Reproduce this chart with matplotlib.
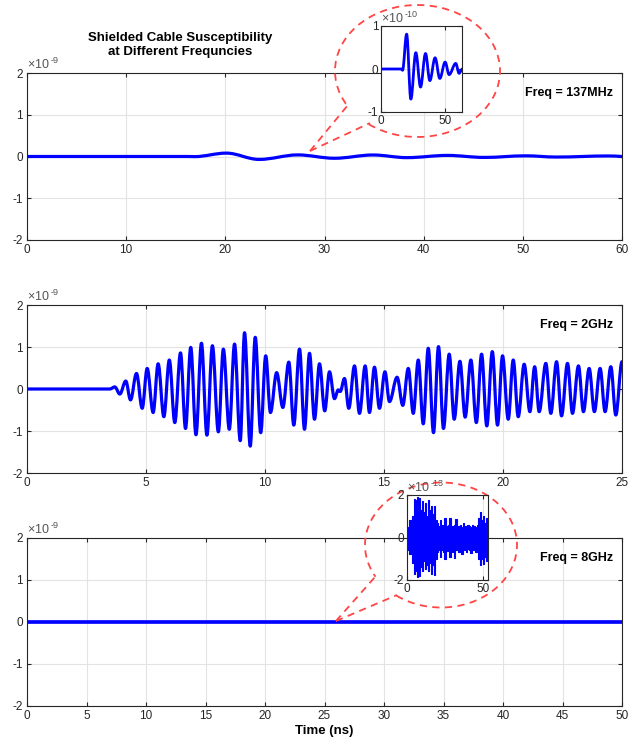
import matplotlib
matplotlib.use('Agg')
import matplotlib.pyplot as plt
from matplotlib.path import Path
from matplotlib.patches import PathPatch, Arc
import numpy as np

plt.rcParams['font.family'] = ['Liberation Sans', 'DejaVu Sans']
plt.rcParams['mathtext.fontset'] = 'custom'
plt.rcParams['mathtext.rm'] = 'Liberation Sans'
plt.rcParams['axes.unicode_minus'] = False

W, H = 631, 746
BLUE = '#0000FF'
RED = '#FF4545'
TXT = '#262626'
GRID = '#E3E3E3'

# 137 MHz response, extrema (ns, x1e-10 V)
t_137 = [0, 16.2, 16.9, 20.1, 23.4, 27.3, 31.0, 34.9, 38.3, 42.4, 46.1, 50.3, 53.4, 58.6, 61.2, 63.8]
v_137 = [0, 0, -0.03, 0.81, -0.70, 0.38, -0.42, 0.36, -0.27, 0.26, -0.22, 0.16, -0.13, 0.13, -0.10, 0.0]

# 2 GHz response, extrema (ns, x1e-9 V)
t_2g = [0, 3.48, 3.69, 3.90, 4.15, 4.35, 4.60, 4.84, 5.05, 5.30, 5.51, 5.75, 5.98, 6.21,
        6.45, 6.66, 6.88, 7.10, 7.33, 7.56, 7.79, 8.04, 8.25, 8.50, 8.72, 8.96, 9.14, 9.38,
        9.59, 9.82, 10.03, 10.23, 10.49, 10.75, 11.00, 11.21, 11.45, 11.66, 11.87, 12.08,
        12.29, 12.51, 12.71, 12.92, 13.08, 13.16, 13.34, 13.52, 13.76, 13.97, 14.21, 14.39,
        14.60, 14.81, 15.04, 15.23, 15.55, 15.79, 16.02, 16.23, 16.44, 16.65, 16.86, 17.08,
        17.29, 17.50, 17.74, 17.95, 18.19, 18.41, 18.65, 18.88, 19.10, 19.32, 19.55, 19.77,
        19.98, 20.22, 20.43, 20.64, 20.89, 21.13, 21.33, 21.52, 21.80, 22.01, 22.25, 22.46,
        22.71, 22.92, 23.17, 23.38, 23.62, 23.84, 24.08, 24.29, 24.53, 24.74, 25.0]
v_2g = [0, 0, 0.05, -0.12, 0.19, -0.26, 0.37, -0.46, 0.49, -0.56, 0.60, -0.66, 0.69, -0.80,
        0.86, -0.94, 0.99, -1.09, 1.09, -1.10, 1.03, -1.02, 0.95, -0.96, 1.07, -1.23, 1.34, -1.36,
        1.23, -1.04, 0.79, -0.56, 0.39, -0.44, 0.64, -0.86, 0.95, -0.96, 0.85, -0.72,
        0.60, -0.52, 0.41, -0.23, -0.02, -0.06, 0.25, -0.46, 0.55, -0.58, 0.55, -0.56,
        0.52, -0.46, 0.41, -0.30, 0.28, -0.39, 0.49, -0.58, 0.69, -0.83, 0.97, -1.04,
        1.01, -0.94, 0.83, -0.72, 0.66, -0.67, 0.69, -0.80, 0.83, -0.88, 0.89, -0.86,
        0.79, -0.72, 0.69, -0.66, 0.59, -0.54, 0.53, -0.54, 0.61, -0.58, 0.65, -0.64,
        0.61, -0.58, 0.55, -0.54, 0.49, -0.54, 0.49, -0.54, 0.53, -0.62, 0.65]

# 8 GHz response, envelope (ns, x1e-13 V)
t_8g = [0, 1, 2, 3, 4, 5, 6, 7, 8, 9, 10, 11, 12, 13, 14, 15, 16, 17, 18, 19, 20, 21, 22, 23,
        24, 25, 26, 27, 28, 29, 30, 31, 32, 33, 34, 35, 36, 37, 38, 39, 40, 41, 42, 43, 44,
        45, 46, 47, 48, 49, 50, 51, 52, 53]
up_8g = [0.1, 0.5, 0.8, 0.7, 1.0, 1.8, 1.75, 1.9, 1.85, 1.3, 1.7, 1.2, 1.6, 1.0, 1.75, 1.3,
         1.5, 1.1, 1.5, 0.8, 0.7, 0.55, 0.8, 0.6, 0.5, 0.9, 0.55, 0.6, 0.9, 0.5, 0.55, 0.6,
         0.85, 0.5, 0.55, 0.6, 0.5, 0.7, 0.55, 0.5, 0.6, 0.55, 0.5, 0.6, 0.55, 0.5, 0.6, 0.9,
         1.2, 0.8, 1.0, 0.7, 0.9, 0.8]
lo_8g = [-0.1, -0.6, -0.8, -0.7, -1.2, -1.7, -1.6, -1.85, -1.8, -1.4, -1.6, -1.1, -1.5, -1.3,
         -1.6, -1.2, -1.7, -1.3, -1.75, -1.0, -0.7, -0.6, -0.9, -0.6, -0.7, -1.0, -0.65, -0.6,
         -0.9, -0.6, -0.7, -0.95, -0.6, -0.55, -0.7, -0.6, -0.8, -0.55, -0.6, -0.7, -0.55,
         -0.6, -0.75, -0.55, -0.6, -0.7, -0.65, -1.0, -1.3, -1.0, -1.25, -0.9, -1.1, -0.7]

panels = [
    dict(t=t_137, v=v_137, scale=0.1, xlim=60, xticks=[0, 10, 20, 30, 40, 50, 60],
         label='Freq = 137MHz', box=(27, 73, 622, 240)),
    dict(t=t_2g, v=v_2g, scale=1.0, xlim=25, xticks=[0, 5, 10, 15, 20, 25],
         label='Freq = 2GHz', box=(27, 305, 622, 473)),
    dict(t=None, v=None, scale=None, xlim=50, xticks=list(range(0, 51, 5)),
         label='Freq = 8GHz', box=(27, 538, 622, 706)),
]


def rect(box):
    l, t, r, b = box
    return [l / W, 1 - b / H, (r - l) / W, (b - t) / H]


def wave_path(t, v, k=0.36):
    # smooth curve through the extrema: horizontal tangent at every extremum
    verts = [(t[0], v[0])]
    codes = [Path.MOVETO]
    for i in range(len(t) - 1):
        dt = t[i + 1] - t[i]
        verts += [(t[i] + k * dt, v[i]), (t[i + 1] - k * dt, v[i + 1]), (t[i + 1], v[i + 1])]
        codes += [Path.CURVE4] * 3
    return Path(verts, codes)


def style(ax, fs=8.5, pad=3):
    ax.grid(True, color=GRID, lw=0.8)
    ax.set_axisbelow(True)
    ax.tick_params(direction='in', top=True, right=True, length=3, width=0.8,
                   labelsize=fs, colors=TXT, pad=pad)
    for s in ax.spines.values():
        s.set_color(TXT)
        s.set_linewidth(0.8)


def exp_label(ax, power):
    base = ax.text(0.0, 1.01, r'$\times$10', transform=ax.transAxes, fontsize=9,
                   color='#555555', ha='left', va='bottom')
    ax.annotate(power, xy=(1, 1), xycoords=base, xytext=(0.3, -5),
                textcoords='offset points', fontsize=6.5, color='#555555',
                ha='left', va='bottom')


fig = plt.figure(figsize=(W / 100, H / 100), dpi=100)

axes = []
for p in panels:
    ax = fig.add_axes(rect(p['box']))
    style(ax)
    if p['t'] is not None:
        tt = p['t']
        vv = [x * p['scale'] for x in p['v']]
        ax.add_patch(PathPatch(wave_path(tt, vv), fill=False, edgecolor=BLUE, lw=2.3,
                               joinstyle='round', capstyle='round'))
    else:
        ax.plot(t_8g, [x * 1e-4 for x in up_8g], color=BLUE, lw=2.3)
        ax.plot(t_8g, [x * 1e-4 for x in lo_8g], color=BLUE, lw=2.3)
    ax.set_xlim(0, p['xlim'])
    ax.set_ylim(-2, 2)
    ax.set_xticks(p['xticks'])
    ax.set_yticks([-2, -1, 0, 1, 2])
    exp_label(ax, '-9')
    ax.text(0.985, 0.88, p['label'], transform=ax.transAxes, fontsize=9,
            fontweight='bold', ha='right', va='center', color='black')
    axes.append(ax)

axes[-1].set_xlabel('Time (ns)', fontsize=9.5, fontweight='bold', labelpad=2)

fig.text(180 / W, 1 - 45 / H, 'Shielded Cable Susceptibility\nat Different Frequncies',
         ha='center', va='center', fontsize=9.5, fontweight='bold', linespacing=1.25)

# overlay in pixel units for the callout bubbles
ov = fig.add_axes([0, 0, 1, 1], zorder=5)
ov.set_xlim(0, W)
ov.set_ylim(0, H)
ov.axis('off')
ov.patch.set_alpha(0)

bubbles = [
    dict(cx=417.5, cy=71, w=165, h=132, tip=(310, 151), p1=(348, 105), p2=(370, 123)),
    dict(cx=441, cy=545, w=152, h=125, tip=(336, 621), p1=(375, 577), p2=(397, 595)),
]
for b in bubbles:
    a1 = np.degrees(np.arctan2(b['cy'] - b['p1'][1], b['p1'][0] - b['cx'])) % 360
    a2 = np.degrees(np.arctan2(b['cy'] - b['p2'][1], b['p2'][0] - b['cx'])) % 360
    ov.add_patch(Arc((b['cx'], H - b['cy']), b['w'], b['h'], theta1=a2, theta2=a1 + 360,
                     color=RED, lw=1.3, ls=(0, (4, 3))))
    for q in (b['p1'], b['p2']):
        ov.plot([b['tip'][0], q[0]], [H - b['tip'][1], H - q[1]], color=RED, lw=1.3,
                ls=(0, (4, 3)))

# inset: 137 MHz zoom
in1 = fig.add_axes(rect((381, 26, 462, 112)), zorder=6)
style(in1, fs=8.5, pad=2)
in1.add_patch(PathPatch(wave_path(t_137, v_137), fill=False, edgecolor=BLUE, lw=2.0,
                        joinstyle='round', capstyle='round'))
in1.set_xlim(0, 63.5)
in1.set_ylim(-1, 1)
in1.set_xticks([0, 50])
in1.set_yticks([-1, 0, 1])
exp_label(in1, '-10')

# inset: 8 GHz zoom
in2 = fig.add_axes(rect((407, 495, 488, 580)), zorder=6)
style(in2, fs=8.5, pad=2)
in2.fill_between(t_8g, lo_8g, up_8g, step='mid', color=BLUE, lw=0.8)
in2.set_xlim(0, 53)
in2.set_ylim(-2, 2)
in2.set_xticks([0, 50])
in2.set_yticks([-2, 0, 2])
exp_label(in2, '-13')

fig.savefig('out.png', dpi=100)
